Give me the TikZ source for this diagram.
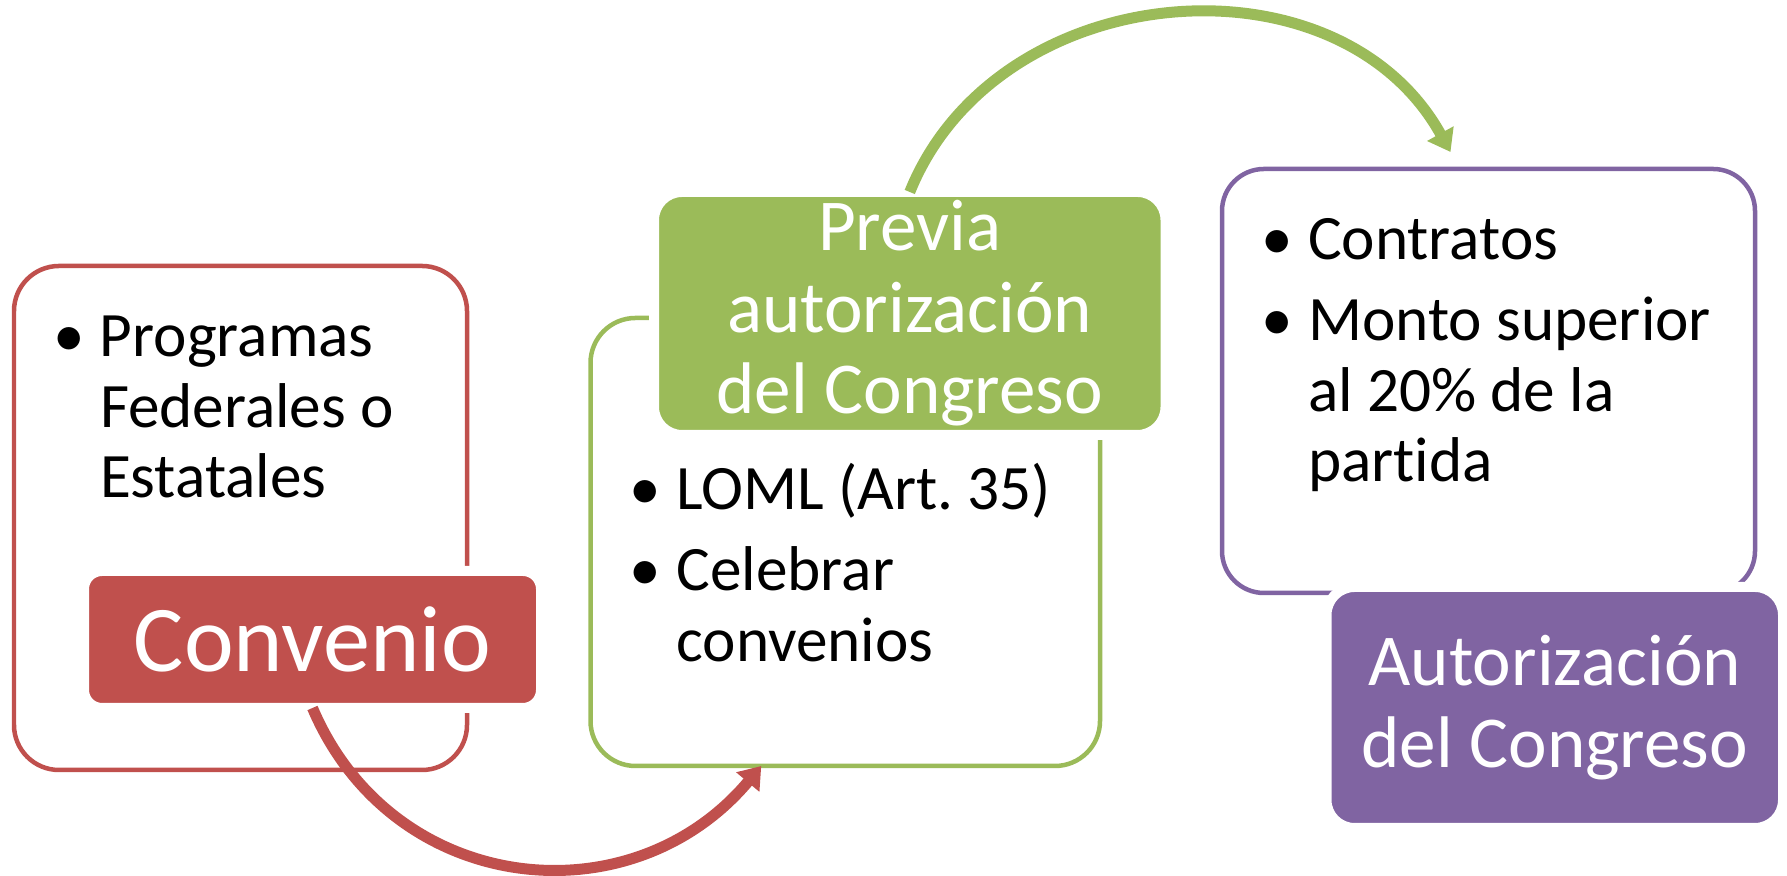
\documentclass[tikz,border=0pt]{standalone}
\usepackage{fontspec}
\setmainfont{Carlito}[Ligatures={CommonOff,ContextualOff},Contextuals=AlternateOff]
\frenchspacing
\usetikzlibrary{arrows.meta}
\definecolor{convred}{HTML}{C0504D}
\definecolor{previagreen}{HTML}{9BBB59}
\definecolor{autpurple}{HTML}{8064A2}
\tikzset{
  listbox/.style={draw=#1, line width=0.045cm, rounded corners=0.45cm, inner sep=0pt, outer sep=0pt},
  titlebox/.style={fill=#1, draw=white, line width=0.1cm, text=white, align=center, inner sep=0pt, outer sep=0pt},
  bullets/.style={anchor=base west, inner sep=0pt, outer sep=0pt, font=\fontsize{18}{20}\selectfont},
  bendarrow/.style={draw=#1, line width=0.11cm, -{Triangle[width=0.29cm,length=0.21cm]}}
}
\newcommand{\bul}{\makebox[0.30cm]{•}}

\begin{document}
\begin{tikzpicture}
\path[use as bounding box] (0,0) rectangle (17.87,8.76);
% white boxes with the lists
\node[listbox=convred, minimum width=4.53cm, minimum height=5.04cm] (progbox) at (2.405,3.58) {};
\node[listbox=previagreen, minimum width=5.095cm, minimum height=4.48cm] (lomlbox) at (8.4525,3.34) {};
\node[listbox=autpurple, minimum width=5.33cm, minimum height=4.24cm, rounded corners=0.42cm] (contbox) at (14.885,4.95) {};
% coloured title boxes, the white border cuts the lines below
\node[titlebox=convred, minimum width=4.57cm, minimum height=1.37cm, rounded corners=0.18cm, font=\fontsize{26.8}{30}\selectfont] (convbox) at (3.125,2.365) {Convenio};
\node[titlebox=previagreen, minimum width=5.115cm, minimum height=2.43cm, rounded corners=0.28cm, font=\fontsize{20.8}{23.2}\selectfont] (previabox) at (9.0975,5.625) {Previa\\autorización\\del Congreso};
\node[titlebox=autpurple, minimum width=4.565cm, minimum height=2.41cm, rounded corners=0.28cm, font=\fontsize{20.8}{23.2}\selectfont] (autbox) at (15.5475,1.685) {Autorización\\del Congreso};
% bent arrows
\coordinate (lomlin) at ([xshift=-0.84cm]lomlbox.south);
\coordinate (contin) at ([xshift=-0.38cm,yshift=0.17cm]contbox.north);
\draw[bendarrow=convred] (convbox.south) to[out=-67, in=230, looseness=1.15] (lomlin);
\draw[bendarrow=previagreen] (previabox.north) to[out=68, in=119, looseness=1.1] (contin);
% bullet lists
\node[bullets] (progtext) at ([xshift=0.40cm,yshift=-0.91cm]progbox.north west) {\begin{tabular}[t]{@{}l@{\hspace{0.16cm}}l@{}}
\bul & Programas\\ & Federales o\\ & Estatales
\end{tabular}};
\node[bullets] (lomltext) at ([xshift=0.40cm,yshift=-1.92cm]lomlbox.north west) {\begin{tabular}[t]{@{}l@{\hspace{0.16cm}}l@{}}
\bul & LOML (Art. 35)\\[3pt] \bul & Celebrar\\ & convenios
\end{tabular}};
\node[bullets] (conttext) at ([xshift=0.40cm,yshift=-0.91cm]contbox.north west) {\begin{tabular}[t]{@{}l@{\hspace{0.16cm}}l@{}}
\bul & Contratos\\[3pt] \bul & Monto superior\\ & al 20\% de la\\ & partida
\end{tabular}};
\end{tikzpicture}
\end{document}
